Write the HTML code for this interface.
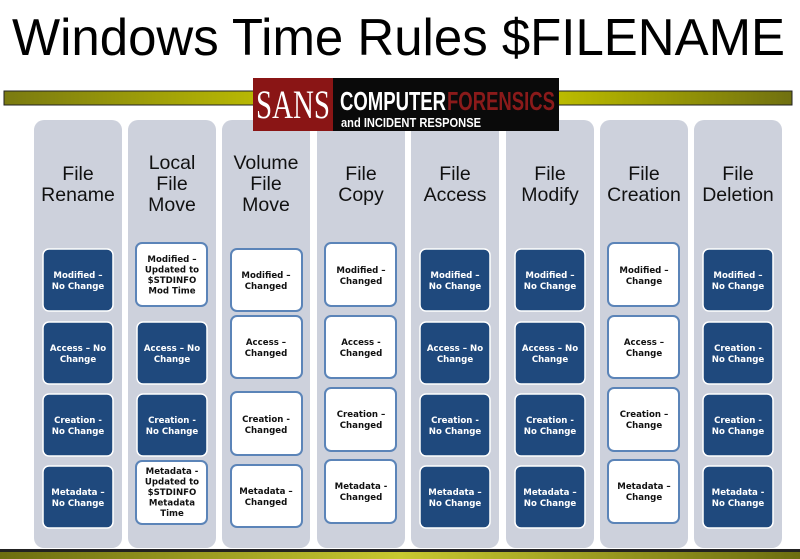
<!DOCTYPE html>
<html><head><meta charset="utf-8"><style>
html,body{margin:0;padding:0;background:#fff;}
svg{display:block}
.h{font-family:"Liberation Sans",sans-serif;font-size:19.5px;fill:#111;text-anchor:middle}
.b{font-family:"DejaVu Sans",sans-serif;font-weight:bold;font-size:8.6px;text-anchor:middle}
.w{fill:#fff}.k{fill:#111}
</style></head><body>
<svg width="800" height="559" viewBox="0 0 800 559" xmlns="http://www.w3.org/2000/svg">
<defs>
<linearGradient id="bar" x1="0" x2="1" y1="0" y2="0">
<stop offset="0" stop-color="#7a7a10"/><stop offset="0.4" stop-color="#c8c800"/><stop offset="0.55" stop-color="#e0e000"/><stop offset="0.75" stop-color="#b0b000"/><stop offset="1" stop-color="#707010"/>
</linearGradient>
<linearGradient id="bot" x1="0" x2="1"><stop offset="0" stop-color="#6d6d10"/><stop offset="0.5" stop-color="#c8c830"/><stop offset="1" stop-color="#6d6d10"/></linearGradient>
</defs>
<text x="12" y="55" font-family="Liberation Sans, sans-serif" font-size="52" textLength="773" lengthAdjust="spacingAndGlyphs" fill="#000">Windows Time Rules $FILENAME</text>
<rect x="4" y="91" width="788" height="14" fill="url(#bar)" stroke="#222" stroke-width="1"/>
<!-- columns -->
<g fill="#cdd1dc">
<rect x="34" y="120" width="88" height="428" rx="10"/>
<rect x="128" y="120" width="88" height="428" rx="10"/>
<rect x="222" y="120" width="88" height="428" rx="10"/>
<rect x="317" y="120" width="88" height="428" rx="10"/>
<rect x="411" y="120" width="88" height="428" rx="10"/>
<rect x="506" y="120" width="88" height="428" rx="10"/>
<rect x="600" y="120" width="88" height="428" rx="10"/>
<rect x="694" y="120" width="88" height="428" rx="10"/>
</g>
<!-- logo -->
<rect x="253" y="78" width="306" height="53" fill="#0a0a0a"/>
<rect x="253" y="78" width="80" height="53" fill="#8a1515"/>
<text x="293" y="118" font-family="Liberation Serif, serif" font-size="40" fill="#fff" text-anchor="middle" textLength="74" lengthAdjust="spacingAndGlyphs">SANS</text>
<text x="340" y="110" font-family="Liberation Sans, sans-serif" font-weight="bold" font-size="26" fill="#fff" textLength="106" lengthAdjust="spacingAndGlyphs">COMPUTER</text>
<text x="447" y="110" font-family="Liberation Sans, sans-serif" font-weight="bold" font-size="26" fill="#8a1a1a" textLength="108" lengthAdjust="spacingAndGlyphs">FORENSICS</text>
<text x="341" y="127" font-family="Liberation Sans, sans-serif" font-weight="bold" font-size="13" fill="#fff" textLength="140" lengthAdjust="spacingAndGlyphs">and INCIDENT RESPONSE</text>
<rect x="0" y="549" width="800" height="3" fill="#222"/>
<rect x="0" y="552" width="800" height="7" fill="url(#bot)"/>
<!-- headers -->
<text class="h" x="78" y="180">File</text><text class="h" x="78" y="201">Rename</text>
<text class="h" x="172" y="169">Local</text><text class="h" x="172" y="190">File</text><text class="h" x="172" y="211">Move</text>
<text class="h" x="266" y="169">Volume</text><text class="h" x="266" y="190">File</text><text class="h" x="266" y="211">Move</text>
<text class="h" x="361" y="180">File</text><text class="h" x="361" y="201">Copy</text>
<text class="h" x="455" y="180">File</text><text class="h" x="455" y="201">Access</text>
<text class="h" x="550" y="180">File</text><text class="h" x="550" y="201">Modify</text>
<text class="h" x="644" y="180">File</text><text class="h" x="644" y="201">Creation</text>
<text class="h" x="738" y="180">File</text><text class="h" x="738" y="201">Deletion</text>
<!-- dark boxes -->
<g fill="#1f497d" stroke="#fff" stroke-width="1.5">
<rect x="43" y="249" width="70" height="62" rx="6"/><rect x="43" y="322" width="70" height="62" rx="6"/><rect x="43" y="394" width="70" height="62" rx="6"/><rect x="43" y="466" width="70" height="62" rx="6"/>
<rect x="137" y="322" width="70" height="62" rx="6"/><rect x="137" y="394" width="70" height="62" rx="6"/>
<rect x="420" y="249" width="70" height="62" rx="6"/><rect x="420" y="322" width="70" height="62" rx="6"/><rect x="420" y="394" width="70" height="62" rx="6"/><rect x="420" y="466" width="70" height="62" rx="6"/>
<rect x="515" y="249" width="70" height="62" rx="6"/><rect x="515" y="322" width="70" height="62" rx="6"/><rect x="515" y="394" width="70" height="62" rx="6"/><rect x="515" y="466" width="70" height="62" rx="6"/>
<rect x="703" y="249" width="70" height="62" rx="6"/><rect x="703" y="322" width="70" height="62" rx="6"/><rect x="703" y="394" width="70" height="62" rx="6"/><rect x="703" y="466" width="70" height="62" rx="6"/>
</g>
<!-- white boxes -->
<g fill="#fff" stroke="#5b84b8" stroke-width="2">
<rect x="136" y="243" width="71" height="63" rx="6"/><rect x="136" y="461" width="71" height="63" rx="6"/>
<rect x="231" y="249" width="71" height="62" rx="6"/><rect x="231" y="316" width="71" height="62" rx="6"/><rect x="231" y="392" width="71" height="63" rx="6"/><rect x="231" y="465" width="71" height="62" rx="6"/>
<rect x="325" y="243" width="71" height="63" rx="6"/><rect x="325" y="316" width="71" height="62" rx="6"/><rect x="325" y="388" width="71" height="63" rx="6"/><rect x="325" y="460" width="71" height="63" rx="6"/>
<rect x="608" y="243" width="71" height="63" rx="6"/><rect x="608" y="316" width="71" height="62" rx="6"/><rect x="608" y="388" width="71" height="63" rx="6"/><rect x="608" y="460" width="71" height="63" rx="6"/>
</g>
<!-- dark box text -->
<g class="b w">
<text x="78" y="278">Modified –</text><text x="78" y="289">No Change</text>
<text x="78" y="351">Access – No</text><text x="78" y="362">Change</text>
<text x="78" y="423">Creation -</text><text x="78" y="434">No Change</text>
<text x="78" y="495">Metadata –</text><text x="78" y="506">No Change</text>
<text x="172" y="351">Access –  No</text><text x="172" y="362">Change</text>
<text x="172" y="423">Creation -</text><text x="172" y="434">No Change</text>
<text x="455" y="278">Modified –</text><text x="455" y="289">No Change</text>
<text x="455" y="351">Access – No</text><text x="455" y="362">Change</text>
<text x="455" y="423">Creation -</text><text x="455" y="434">No Change</text>
<text x="455" y="495">Metadata –</text><text x="455" y="506">No Change</text>
<text x="550" y="278">Modified –</text><text x="550" y="289">No Change</text>
<text x="550" y="351">Access – No</text><text x="550" y="362">Change</text>
<text x="550" y="423">Creation -</text><text x="550" y="434">No Change</text>
<text x="550" y="495">Metadata –</text><text x="550" y="506">No Change</text>
<text x="738" y="278">Modified –</text><text x="738" y="289">No Change</text>
<text x="738" y="351">Creation -</text><text x="738" y="362">No Change</text>
<text x="738" y="423">Creation -</text><text x="738" y="434">No Change</text>
<text x="738" y="495">Metadata -</text><text x="738" y="506">No Change</text>
</g>
<!-- white box text -->
<g class="b k">
<text x="172" y="262">Modified –</text><text x="172" y="272.5">Updated to</text><text x="172" y="283">$STDINFO</text><text x="172" y="293.5">Mod Time</text>
<text x="172" y="474">Metadata -</text><text x="172" y="484.5">Updated to</text><text x="172" y="495">$STDINFO</text><text x="172" y="505.5">Metadata</text><text x="172" y="516">Time</text>
<text x="266" y="278">Modified –</text><text x="266" y="289">Changed</text>
<text x="266" y="345">Access –</text><text x="266" y="356">Changed</text>
<text x="266" y="422">Creation -</text><text x="266" y="433">Changed</text>
<text x="266" y="494">Metadata –</text><text x="266" y="505">Changed</text>
<text x="361" y="273">Modified –</text><text x="361" y="284">Changed</text>
<text x="361" y="345">Access -</text><text x="361" y="356">Changed</text>
<text x="361" y="417">Creation –</text><text x="361" y="428">Changed</text>
<text x="361" y="489">Metadata -</text><text x="361" y="500">Changed</text>
<text x="644" y="273">Modified –</text><text x="644" y="284">Change</text>
<text x="644" y="345">Access –</text><text x="644" y="356">Change</text>
<text x="644" y="417">Creation –</text><text x="644" y="428">Change</text>
<text x="644" y="489">Metadata –</text><text x="644" y="500">Change</text>
</g>
</svg>
</body></html>
